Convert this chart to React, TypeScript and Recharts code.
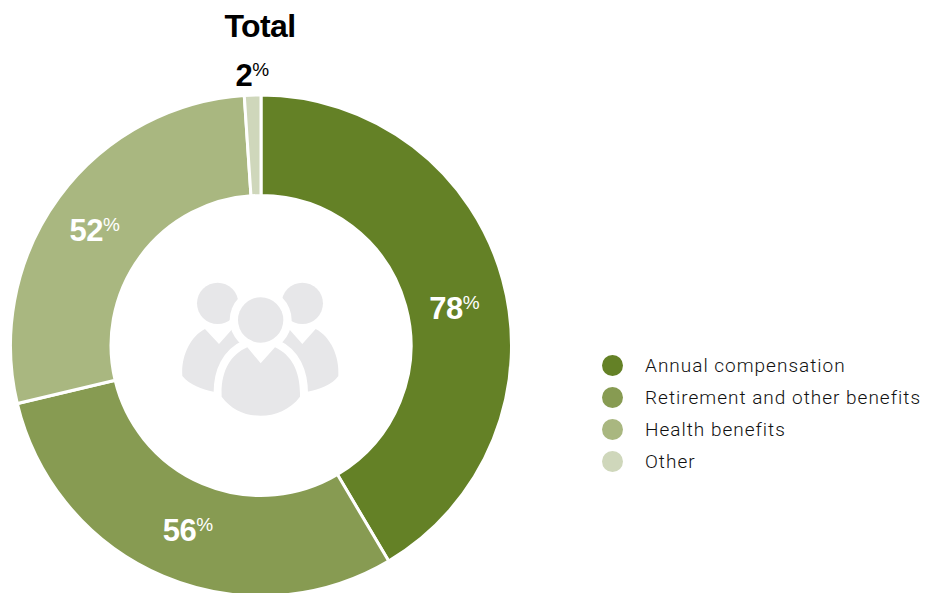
import { Pie, PieChart, Cell, Legend } from "recharts";

const categories = ["Annual compensation", "Retirement and other benefits", "Health benefits", "Other"];
const values = [78, 56, 52, 2];
const colors = ["#648126", "#879b52", "#a9b780", "#cfd7bb"];
const title = "Total";

const data = categories.map((name, i) => ({ name, value: values[i] }));

const CX = 261;
const CY = 345.5;
const RAD = Math.PI / 180;

// the labels were placed by hand in the original, so nudge them a bit
const labelNudge = [
  [2, 15],
  [4, 2],
  [-7, 2],
  [0, -1],
];

const renderLabel = ({ cx, cy, midAngle, innerRadius, outerRadius, value, index }: any) => {
  const small = value < 5;
  const r = small ? outerRadius + 19 : (innerRadius + outerRadius) / 2 - 2;
  const x = cx + r * Math.cos(-midAngle * RAD) + labelNudge[index][0];
  const y = cy + r * Math.sin(-midAngle * RAD) + labelNudge[index][1];
  return (
    <text
      x={x}
      y={y + 11}
      textAnchor="middle"
      fontFamily="Liberation Sans"
      fontWeight={700}
      fontSize={31}
      letterSpacing={-0.5}
      fill={small ? "#000000" : "#ffffff"}
    >
      {value}
      <tspan fontSize={19} dy={-10} fontWeight={400}>
        %
      </tspan>
    </text>
  );
};

const renderLegend = () => (
  <div>
    {categories.map((name, i) => (
      <div key={name} style={{ display: "flex", alignItems: "center", height: 32 }}>
        <span
          style={{
            width: 21,
            height: 21,
            borderRadius: "50%",
            background: colors[i],
            marginRight: 22,
          }}
        />
        <span style={{ fontFamily: "Roboto", fontWeight: 300, fontSize: 19, letterSpacing: 1, color: "#111111", whiteSpace: "nowrap" }}>
          {name}
        </span>
      </div>
    ))}
  </div>
);

const PeopleIcon = () => (
  <g transform="translate(170 270) scale(0.3333)" fill="#e7e7e9">
    <path d="M105 177 L147 222 L187 177 C225 195 250 215 272 260 L272 340 L131 365 C95 358 60 345 37 318 C33 260 60 200 105 177 Z" />
    <path d="M437 177 L397 222 L357 177 C320 195 295 215 272 260 L272 340 L412 365 C450 358 485 345 505 318 C509 260 482 200 437 177 Z" />
    <circle cx={143} cy={100} r={62} />
    <circle cx={397} cy={100} r={62} />
    <circle cx={272} cy={150} r={93} fill="#ffffff" />
    <circle cx={272} cy={150} r={68} />
    <path
      d="M232 232 L272 280 L315 232 C365 255 392 305 390 380 C360 420 315 437 272 437 C225 437 185 420 155 380 C152 305 180 255 232 232 Z"
      stroke="#ffffff"
      strokeWidth={48}
      paintOrder="stroke"
      strokeLinejoin="round"
    />
  </g>
);

export default function App() {
  return (
    <div style={{ position: "absolute", left: 0, top: 0 }}>
      <PieChart width={930} height={593} margin={{ top: 0, right: 0, bottom: 0, left: 0 }}>
        <text x={260} y={37} textAnchor="middle" fontFamily="Liberation Sans" fontWeight={700} fontSize={32} letterSpacing={-0.6} fill="#000000">
          {title}
        </text>
        <Pie
          data={data}
          dataKey="value"
          nameKey="name"
          cx={CX}
          cy={CY}
          innerRadius={150}
          outerRadius={250.5}
          startAngle={90}
          endAngle={-270}
          stroke="#ffffff"
          strokeWidth={3}
          label={renderLabel}
          labelLine={false}
          isAnimationActive={false}
        >
          {data.map((d, i) => (
            <Cell key={d.name} fill={colors[i]} />
          ))}
        </Pie>
        <PeopleIcon />
        <Legend
          content={renderLegend}
          layout="vertical"
          wrapperStyle={{ left: 602, top: 349, width: 328 }}
        />
      </PieChart>
    </div>
  );
}
